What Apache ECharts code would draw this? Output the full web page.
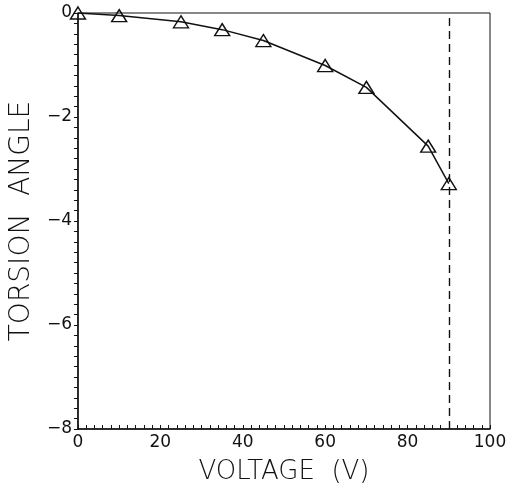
<!DOCTYPE html>
<html>
<head>
<meta charset="utf-8">
<script src="https://cdn.jsdelivr.net/npm/echarts@6/dist/echarts.min.js"></script>
<style>
  html, body { margin: 0; padding: 0; background: #fff; }
  #chart { width: 511px; height: 490px; }
</style>
</head>
<body>
<div id="chart"></div>
<script>
// voltage (V) and measured torsion angle
const voltage = [0, 10, 25, 35, 45, 60, 70, 85, 90];
const torsion = [0, -0.05, -0.17, -0.32, -0.53, -1.01, -1.43, -2.56, -3.28];
const cutoffVoltage = 90;

const chart = echarts.init(document.getElementById('chart'));

const font = 'DejaVu Sans';
const ink = '#111';

const option = {
  animation: false,
  backgroundColor: '#fff',
  grid: {
    left: 75, right: 21, top: 13, bottom: 58,
    show: true, borderColor: ink, borderWidth: 1
  },
  xAxis: {
    type: 'value',
    min: 0, max: 100, interval: 20,
    name: 'VOLTAGE  (V)',
    nameLocation: 'middle',
    nameGap: 30,
    nameTextStyle: { color: ink, fontFamily: font, fontSize: 26, fontWeight: 200 },
    axisLine: { onZero: false, lineStyle: { color: ink, width: 1.5 } },
    axisTick: { inside: true, length: 4, lineStyle: { color: ink } },
    minorTick: { show: true, splitNumber: 10, length: 4, lineStyle: { color: ink } },
    axisLabel: { color: ink, fontFamily: font, fontSize: 17, margin: 5 },
    splitLine: { show: false }
  },
  yAxis: {
    type: 'value',
    min: -8, max: 0, interval: 2,
    name: 'TORSION  ANGLE',
    nameLocation: 'middle',
    nameGap: 40,
    nameTextStyle: { color: ink, fontFamily: font, fontSize: 28, fontWeight: 200 },
    axisLine: { onZero: false, lineStyle: { color: ink, width: 1.5 } },
    axisTick: { inside: false, length: 4, lineStyle: { color: ink } },
    minorTick: { show: true, splitNumber: 10, length: 4, lineStyle: { color: ink } },
    axisLabel: {
      color: ink, fontFamily: font, fontSize: 17, margin: 6,
      formatter: v => (v < 0 ? '\u2212' + Math.abs(v) : String(v))
    },
    splitLine: { show: false }
  },
  series: [
    {
      type: 'line',
      data: voltage.map((v, i) => [v, torsion[i]]),
      symbol: 'triangle',
      symbolSize: [15, 12],
      lineStyle: { color: ink, width: 1.5 },
      itemStyle: { color: 'transparent', borderColor: ink, borderWidth: 1.4 },
      markLine: {
        silent: true,
        symbol: 'none',
        label: { show: false },
        lineStyle: { color: ink, type: [8, 5], width: 1.4 },
        data: [{ xAxis: cutoffVoltage }]
      }
    }
  ]
};

chart.setOption(option);
</script>
</body>
</html>
